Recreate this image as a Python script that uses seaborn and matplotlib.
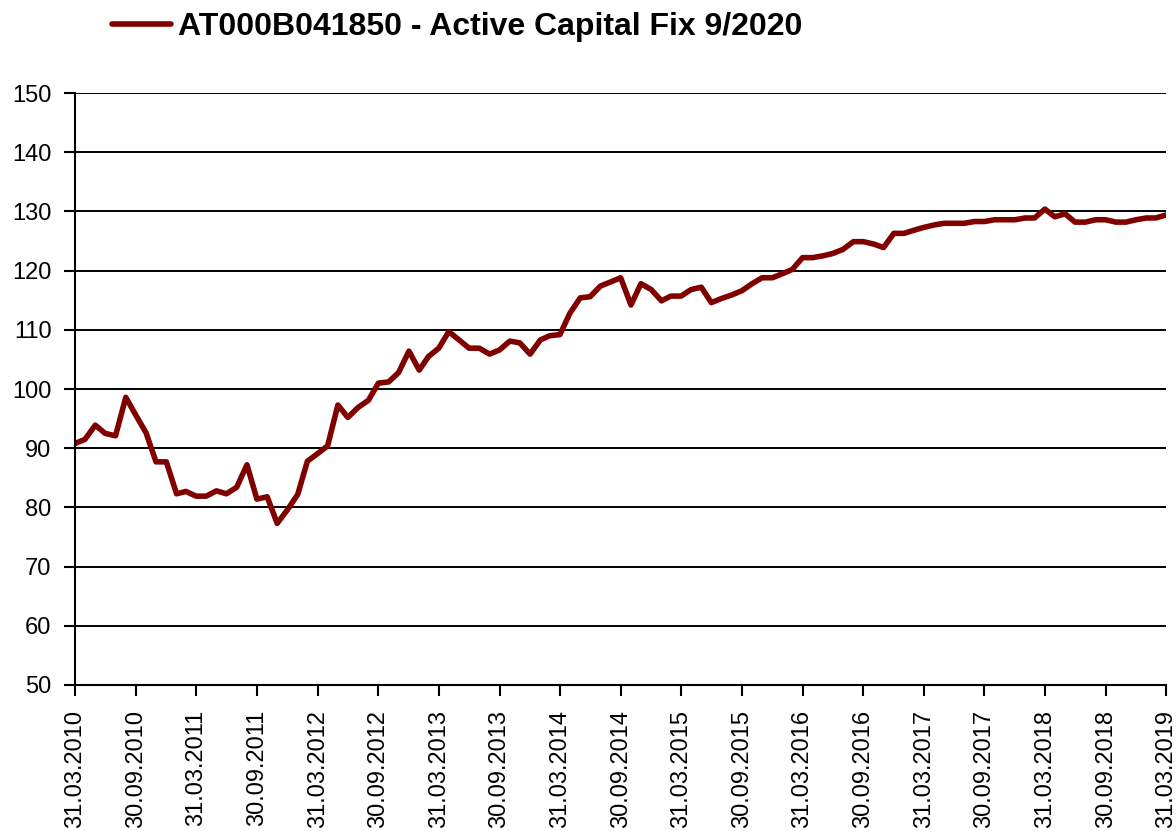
import pandas as pd
import seaborn as sns
import matplotlib.pyplot as plt
import matplotlib.dates as mdates

# monthly values, 31.03.2010 .. 31.03.2019
start_date = "2010-03-31"
values = [
    90.8, 91.5, 93.9, 92.5, 92.1, 98.6, 95.6, 92.6, 87.7, 87.7,
    82.3, 82.7, 81.9, 81.9, 82.8, 82.3, 83.4, 87.2, 81.4, 81.8,
    77.3, 79.6, 82.2, 87.8, 89.1, 90.4, 97.3, 95.2, 96.9, 98.1,
    101.0, 101.2, 102.8, 106.4, 103.2, 105.5, 106.9, 109.7, 108.3, 106.9,
    106.9, 105.9, 106.6, 108.1, 107.8, 105.9, 108.3, 109.0, 109.2, 112.8,
    115.4, 115.6, 117.4, 118.1, 118.8, 114.2, 117.8, 116.8, 114.9, 115.7,
    115.7, 116.8, 117.2, 114.6, 115.3, 115.9, 116.6, 117.8, 118.8, 118.8,
    119.5, 120.2, 122.2, 122.2, 122.5, 122.9, 123.6, 124.9, 124.9, 124.5,
    123.9, 126.3, 126.3, 126.8, 127.3, 127.7, 128.0, 128.0, 128.0, 128.3,
    128.3, 128.6, 128.6, 128.6, 128.9, 128.9, 130.4, 129.1, 129.6, 128.2,
    128.2, 128.6, 128.6, 128.2, 128.2, 128.6, 128.9, 128.9, 129.4,
]
series_name = "AT000B041850 - Active Capital Fix 9/2020"
y_ticks = [50, 60, 70, 80, 90, 100, 110, 120, 130, 140, 150]

dates = pd.date_range(start_date, periods=len(values), freq="ME")
df = pd.DataFrame({"Datum": dates, "Wert": values})
tick_dates = dates[::6]

sns.set_style("white")
plt.rcParams["font.family"] = ["Liberation Sans", "DejaVu Sans"]
plt.rcParams["text.color"] = "black"

fig = plt.figure(figsize=(11.76, 8.31), dpi=100)
ax = fig.add_axes([0.0638, 0.1757, 0.9277, 0.7123])

sns.lineplot(data=df, x="Datum", y="Wert", color="#800000", linewidth=4.0,
             label=series_name, ax=ax)

ax.set_ylim(50, 150)
ax.set_xlim(dates[0], dates[-1])
ax.set_yticks(y_ticks)
ax.set_xticks(tick_dates)
ax.xaxis.set_major_formatter(mdates.DateFormatter("%d.%m.%Y"))
ax.tick_params(axis="x", rotation=90, labelsize=17, length=8, width=1.5,
               pad=10, direction="out", bottom=True, colors="black")
ax.tick_params(axis="y", labelsize=17, length=8, width=1.5,
               pad=9, direction="out", left=True, colors="black")
ax.yaxis.grid(True, color="black", linewidth=1.4)
ax.set_axisbelow(True)
ax.set(xlabel=None, ylabel=None)

for side in ["top", "right"]:
    ax.spines[side].set_visible(False)
for side in ["left", "bottom"]:
    ax.spines[side].set_color("black")
    ax.spines[side].set_linewidth(1.5)

leg = ax.legend(loc="center left", bbox_to_anchor=(0.071, 0.967),
                bbox_transform=fig.transFigure, frameon=False,
                handlelength=1.85, handletextpad=0.2,
                prop={"weight": "bold", "size": 23})
for t in leg.get_texts():
    t.set_color("black")

fig.savefig("out.png", dpi=100)
